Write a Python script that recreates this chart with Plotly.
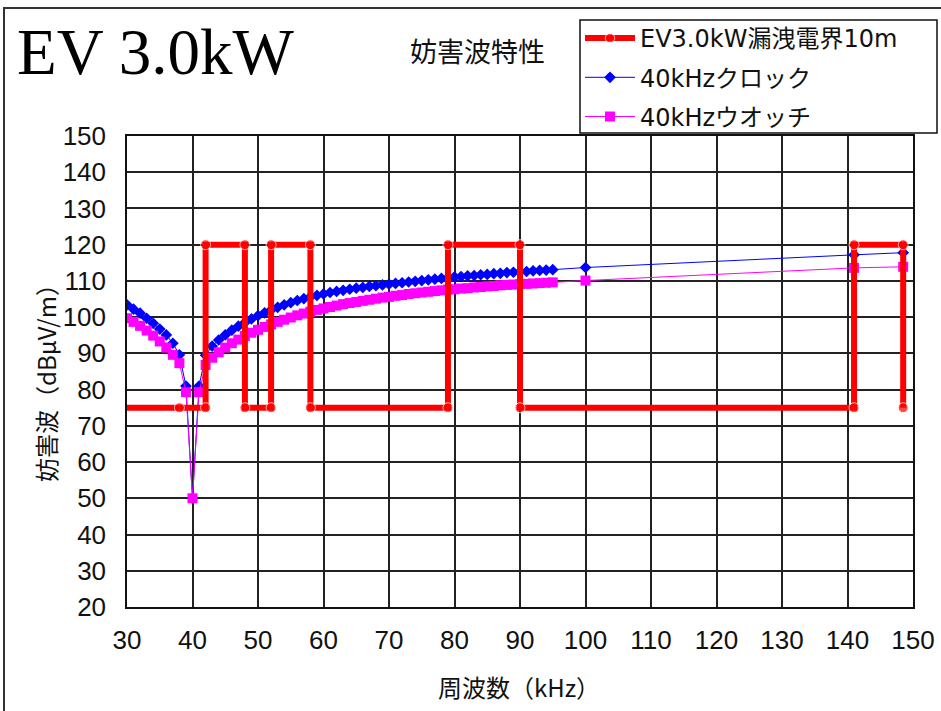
import plotly.graph_objects as go

# Frequency axis (kHz) for the two 40 kHz interference curves
freq_khz = (
    [30, 31, 32, 33, 34, 35, 36, 37, 38, 39, 40, 41]
    + list(range(42, 96))
    + [100, 141, 148.5]
)

# 40kHz clock interference level (dBμV/m)
clock_db = [
    # 30 - 41
    103.4, 102.2, 101.1, 99.7, 98.3, 96.7, 95.1, 92.8, 89.6, 81.0, 50.0, 81.0,
    # 42 - 53
    89.5, 92.0, 93.7, 95.1, 96.4, 97.5, 98.5, 99.5, 100.4, 101.2, 102.0, 102.7,
    # 54 - 68
    103.4, 104.0, 104.6, 105.1, 105.6, 106.0, 106.4, 106.8, 107.1, 107.4, 107.7,
    108.0, 108.2, 108.5, 108.7,
    # 69 - 79
    108.9, 109.1, 109.3, 109.5, 109.7, 109.9, 110.1, 110.3, 110.5, 110.7, 110.9,
    # 80 - 90
    111.1, 111.2, 111.4, 111.5, 111.7, 111.8, 112.0, 112.1, 112.3, 112.4, 112.5,
    # 91 - 95
    112.6, 112.8, 112.9, 113.0, 113.1,
    # 100, 141, 148.5
    113.7, 117.2, 117.8,
]

# 40kHz watch interference level (dBμV/m)
watch_db = [
    # 30 - 41
    99.7, 98.7, 97.6, 96.3, 94.9, 93.3, 91.6, 89.6, 87.3, 79.3, 50.0, 79.3,
    # 42 - 53
    86.8, 88.8, 90.3, 91.6, 92.8, 93.8, 94.8, 95.7, 96.5, 97.3, 98.0, 98.7,
    # 54 - 64
    99.3, 99.9, 100.5, 101.0, 101.5, 102.0, 102.4, 102.8, 103.2, 103.6, 103.9,
    # 65 - 75
    104.2, 104.5, 104.8, 105.1, 105.4, 105.6, 105.9, 106.1, 106.4, 106.6, 106.8,
    # 76 - 86
    107.0, 107.2, 107.4, 107.6, 107.7, 107.9, 108.0, 108.2, 108.3, 108.5, 108.6,
    # 87 - 95
    108.8, 108.9, 109.0, 109.1, 109.2, 109.3, 109.4, 109.5, 109.6,
    # 100, 141, 148.5
    110.1, 113.6, 113.9,
]

# EV 3.0kW leakage field at 10 m (step profile)
ev_freq_khz = [30, 38, 42, 42, 48, 48, 52, 52, 58, 58, 79, 79, 90, 90, 141, 141, 148.5, 148.5]
ev_db = [75, 75, 75, 120, 120, 75, 75, 120, 120, 75, 75, 120, 120, 75, 75, 120, 120, 75]
ev_marker_size = [0] + [10] * (len(ev_freq_khz) - 1)

x_ticks = list(range(30, 151, 10))
y_ticks = list(range(20, 151, 10))

LAT = "Liberation Sans, Noto Sans CJK JP, sans-serif"
LEG = "DejaVu Sans, Noto Sans CJK JP, sans-serif"
CJK = "Noto Sans CJK JP, Liberation Sans, sans-serif"

# plot-area geometry in pixels
W, H = 941, 711
L, R, T, B = 127, 28, 136, 104
PW, PH = W - L - R, H - T - B


def px(x):
    return (x - L) / PW


def py(y):
    return (H - B - y) / PH


fig = go.Figure()

fig.add_trace(go.Scatter(
    x=freq_khz, y=clock_db, mode="lines+markers",
    name="40kHzクロック", legendrank=2, legendgroup="b",
    line=dict(color="#0000ff", width=1),
    marker=dict(symbol="diamond", size=9, color="#0000ff"),
))
fig.add_trace(go.Scatter(
    x=freq_khz, y=watch_db, mode="lines+markers",
    name="40kHzウオッチ", legendrank=3, legendgroup="c",
    line=dict(color="#ff00ff", width=1),
    marker=dict(symbol="square", size=10, color="#ff00ff"),
))
fig.add_trace(go.Scatter(
    x=ev_freq_khz, y=ev_db, mode="lines+markers",
    name="EV3.0kW漏洩電界10m", legendrank=1, legendgroup="a",
    line=dict(color="#ff0000", width=6),
    marker=dict(symbol="circle", size=ev_marker_size, color="#ff0000"),
))

axis_common = dict(
    showgrid=True, gridcolor="#222222", gridwidth=1.5,
    showline=True, linecolor="#111111", linewidth=1.5, mirror=True,
    zeroline=False, ticks="", automargin=False,
    tickfont=dict(family=LAT, size=26, color="#111111"),
)

fig.update_xaxes(range=[30, 150], tickvals=x_ticks, ticktext=[str(v) for v in x_ticks],
                 ticklabelstandoff=9, **axis_common)
fig.update_yaxes(range=[20, 150], tickvals=y_ticks, ticktext=[str(v) for v in y_ticks],
                 ticklabelstandoff=14, **axis_common)

fig.update_layout(
    width=W, height=H,
    margin=dict(l=L, r=R, t=T, b=B, autoexpand=False),
    paper_bgcolor="white", plot_bgcolor="white",
    showlegend=True,
    legend=dict(
        x=px(580), y=py(16), xanchor="left", yanchor="top",
        bgcolor="rgba(0,0,0,0)", borderwidth=0,
        font=dict(family=LEG, size=24, color="#111111"),
        tracegroupgap=5, itemwidth=50,
    ),
    annotations=[
        dict(text="EV 3.0kW", x=px(15), y=py(52), xref="paper", yref="paper",
             xanchor="left", yanchor="middle", showarrow=False,
             font=dict(family="Liberation Serif, serif", size=65, color="#000000")),
        dict(text="妨害波特性", x=px(477), y=py(50), xref="paper", yref="paper",
             xanchor="center", yanchor="middle", showarrow=False,
             font=dict(family=CJK, size=27, color="#111111")),
        dict(text="妨害波（dBμV/m）", x=px(45), y=py(377), xref="paper", yref="paper",
             xanchor="center", yanchor="middle", textangle=-90, showarrow=False,
             font=dict(family=CJK, size=24, color="#111111")),
        dict(text="周波数（kHz）", x=px(519), y=py(686), xref="paper", yref="paper",
             xanchor="center", yanchor="middle", showarrow=False,
             font=dict(family=CJK, size=24, color="#111111")),
    ],
    shapes=[
        # outer frame
        dict(type="rect", xref="paper", yref="paper",
             x0=px(4), x1=px(948), y0=py(718), y1=py(8),
             line=dict(color="#333333", width=2), layer="below"),
        # legend frame
        dict(type="rect", xref="paper", yref="paper",
             x0=px(580), x1=px(937), y0=py(133), y1=py(20),
             line=dict(color="#111111", width=1.5), fillcolor="white", layer="below"),
    ],
)

fig.write_html("out.html")
